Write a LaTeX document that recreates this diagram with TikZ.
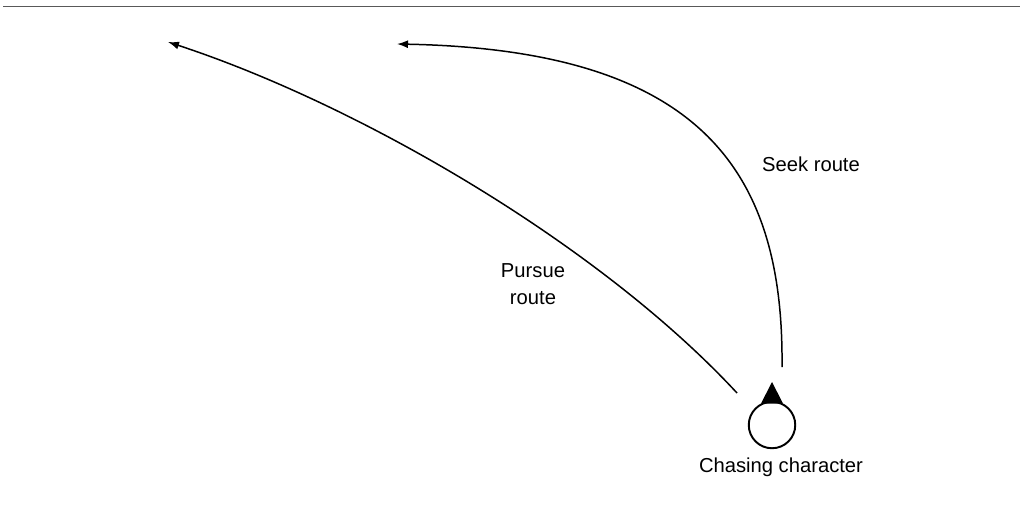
\documentclass[tikz,border=0pt]{standalone}
\usepackage{fontspec}
\setmainfont{Liberation Sans}
\usetikzlibrary{arrows.meta}

\begin{document}
\begin{tikzpicture}[x=0.02cm, y=-0.02cm,
		route/.style={line width=0.85pt, -{Latex[length=2.2mm, width=1.6mm]}},
		label/.style={font=\fontsize{11.5}{15}\selectfont, align=center}]
		%%%%% START %%%%%
		\useasboundingbox (0, 0) rectangle (1020, 510);
		
		\draw[line width=0.85pt, color=black!65] (3, 6.5) -- (1020, 6.5);
		
		% chasing character
		\node[circle, draw, line width=1.1pt, minimum size=0.93cm, inner sep=0] (char) at (772, 425) {};
		\fill (772, 382) -- (783, 403.5) -- (761, 403.5) -- cycle;
		\node[label] (charlabel) at (781, 467) {Chasing character};
		
		\coordinate (seekstart) at (782, 367);
		\coordinate (seekend) at (397, 44);
		\coordinate (pursuestart) at (737, 393);
		\coordinate (pursueend) at (168, 42);
		
		\draw[route] (seekstart) .. controls (784, 170) and (700, 50) .. (seekend);
		\draw[route] (pursuestart) .. controls (600, 245) and (360, 105) .. (pursueend);
		
		\node[label] (seeklabel) at (811, 164) {Seek route};
		\node[label] (pursuelabel) at (533, 284) {Pursue\\route};
		
		%%%%% END %%%%%
	\end{tikzpicture}
\end{document}
